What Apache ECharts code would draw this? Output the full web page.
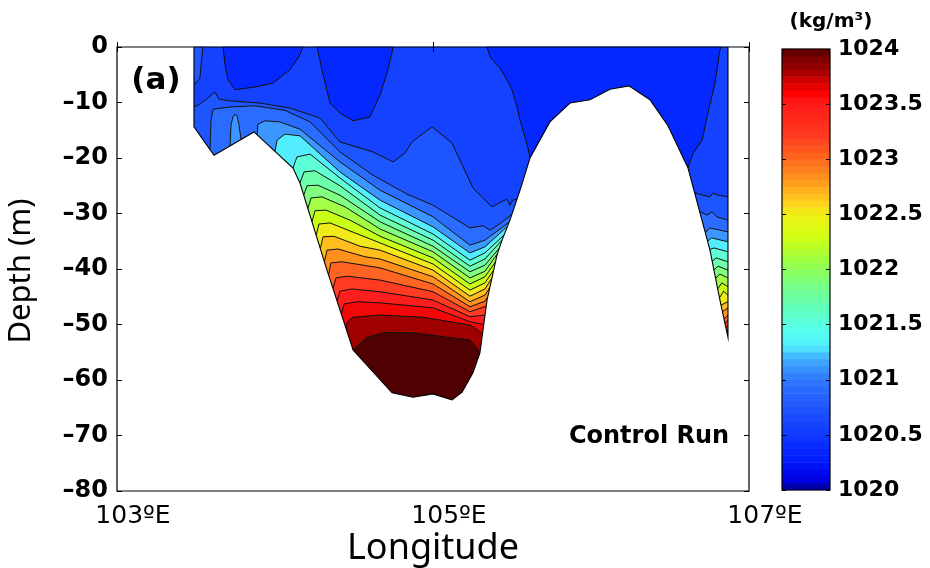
<!DOCTYPE html>
<html>
<head>
<meta charset="utf-8">
<title>Density section - Control Run</title>
<script src="https://cdn.jsdelivr.net/npm/echarts@6/dist/echarts.min.js"></script>
<style>
  html, body { margin: 0; padding: 0; background: #fff; }
  #chart { width: 930px; height: 568px; }
</style>
</head>
<body>
<div id="chart"></div>
<script>
// axis ticks
const lonTicks = [103, 105, 107];
const depthRange = [-80, 0];
const densityRange = [1020, 1024];

// seabed along the section, west to east, [lon, depth m]
const seabed = [
  [103.487, -14.4], [103.614, -19.5], [103.867, -15.3], [104.114, -21.8],
  [104.158, -24.5], [104.329, -40.2], [104.494, -54.6], [104.741, -62.3],
  [104.873, -63.1], [105.0, -62.5], [105.12, -63.6], [105.184, -62.2],
  [105.253, -58.7], [105.297, -55.1], [105.342, -45.6], [105.405, -37.5],
  [105.437, -34.8], [105.487, -31.2], [105.551, -25.8], [105.614, -20.0],
  [105.74, -13.5], [105.867, -10.1], [105.994, -9.5], [106.12, -7.6],
  [106.24, -7.0], [106.373, -9.5], [106.487, -14.2], [106.614, -21.8],
  [106.753, -36.6], [106.816, -45.6], [106.867, -52.3]
];

// fill colour of each density band, lightest water (band 0) first
const bandColors = [
  '#0428ff', '#1442ff', '#1d56ff', '#2a6cff', '#3c96ff',
  '#52eeff', '#5effd6', '#6cffac', '#80ff80', '#a2ff46',
  '#c8ff14', '#f0ea1a', '#ffbe1e', '#ff901e', '#ff6422',
  '#ff3c22', '#ff1e1e', '#f20808', '#a00000', '#500000'
];

// isoline 1: pockets of the lightest water at the surface
const pocketWest = [[103.671, 0], [103.684, -3.2], [103.703, -5.9], [103.747, -7.7], [103.873, -7.2], [103.987, -6.5], [104.095, -4.1], [104.158, -1.4], [104.177, 0]];
const pocketMid = [[104.266, 0], [104.297, -4.1], [104.348, -10.1], [104.411, -11.9], [104.494, -13.3], [104.601, -12.6], [104.665, -8.6], [104.709, -4.7], [104.741, -0.9], [104.747, 0]];
const pocketEastA = [[105.342, 0], [105.361, -1.8], [105.424, -3.8], [105.468, -5.9], [105.5, -7.7], [105.532, -10.8], [105.551, -13.2], [105.582, -16.2], [105.601, -18.2], [105.614, -20.0]];
const pocketEastB = [[106.614, -21.8], [106.646, -19.1], [106.703, -16.8], [106.734, -12.6], [106.785, -6.5], [106.816, -0.5], [106.823, 0]];
// thin strip of band-2 water against the western edge
const edgeStrip = [[103.487, -6.7], [103.494, -6.7], [103.525, -5.6], [103.532, -3.2], [103.544, 0]];

// isolines 2..19, each a list of pieces; denser water lies below each piece
const iso2 = [
  [[103.487, -10.8], [103.525, -10.3], [103.576, -9.2], [103.620, -8.1], [103.646, -9.4], [103.715, -9.7], [103.905, -10.1], [104.095, -11.0], [104.285, -12.8], [104.411, -17.1], [104.620, -18.9], [104.747, -20.7], [104.823, -19.1], [104.867, -17.1], [104.994, -14.4], [105.120, -17.3], [105.253, -25.4], [105.373, -28.8], [105.468, -27.4], [105.487, -28.5], [105.506, -27.6], [105.532, -27.4]],
  [[106.656, -26.3], [106.708, -26.7], [106.753, -27.0], [106.772, -26.3], [106.804, -26.7], [106.867, -27.0]]
];
const iso3 = [
  [[103.589, -18.4], [103.595, -13.2], [103.608, -11.2], [103.715, -10.8], [103.873, -10.6], [104.063, -11.4], [104.222, -13.5], [104.411, -18.9], [104.620, -23.1], [104.835, -26.5], [105.0, -28.5], [105.234, -32.6], [105.316, -32.2], [105.361, -33.0], [105.405, -32.2], [105.443, -31.4], [105.500, -30.1]],
  [[106.687, -29.6], [106.734, -30.3], [106.766, -29.7], [106.797, -30.6], [106.867, -31.2]]
];
const iso4 = [
  [[103.715, -17.8], [103.722, -14.0], [103.734, -12.6], [103.747, -12.1], [103.759, -12.4], [103.772, -14.0], [103.785, -16.7]],
  [[103.886, -15.8], [103.892, -13.9], [103.937, -13.3], [104.032, -13.5], [104.158, -14.8], [104.411, -20.7], [104.665, -25.8], [105.0, -30.6], [105.234, -35.7], [105.329, -34.8], [105.481, -31.6]],
  [[106.724, -33.5], [106.750, -32.6], [106.867, -33.3]]
];
const iso5 = [
  [[104.0, -18.8], [104.013, -16.8], [104.063, -15.7], [104.158, -16.0], [104.411, -22.5], [104.665, -27.6], [105.0, -32.4], [105.234, -37.1], [105.329, -36.0], [105.472, -32.3]],
  [[106.738, -35.0], [106.763, -34.4], [106.867, -35.1]]
];
const iso6 = [
  [[104.114, -21.8], [104.139, -19.8], [104.222, -19.3], [104.411, -23.6], [104.665, -29.0], [105.0, -33.7], [105.234, -38.4], [105.329, -37.1], [105.449, -33.9]],
  [[106.752, -36.5], [106.778, -36.2], [106.867, -36.9]]
];
const iso7 = [
  [[104.158, -24.5], [104.184, -22.5], [104.253, -22.3], [104.411, -25.0], [104.665, -30.3], [105.0, -34.8], [105.234, -39.5], [105.329, -38.2], [105.437, -34.8]],
  [[106.767, -38.6], [106.792, -38.0], [106.867, -38.7]]
];
const iso8 = [
  [[104.182, -26.7], [104.203, -25.0], [104.272, -24.9], [104.411, -26.7], [104.665, -31.5], [105.0, -35.9], [105.234, -40.5], [105.329, -39.3], [105.421, -36.2]],
  [[106.778, -40.2], [106.804, -39.5], [106.867, -40.2]]
];
const iso9 = [
  [[104.208, -29.1], [104.228, -27.2], [104.297, -27.0], [104.443, -28.8], [104.665, -32.8], [105.0, -36.9], [105.234, -41.6], [105.329, -40.4], [105.407, -37.3]],
  [[106.789, -41.7], [106.814, -40.9], [106.867, -41.6]]
];
const iso10 = [
  [[104.234, -31.5], [104.253, -29.5], [104.323, -29.4], [104.475, -31.2], [104.665, -34.1], [105.0, -38.0], [105.234, -42.7], [105.329, -41.4], [105.396, -38.7]],
  [[106.802, -43.6], [106.828, -42.5], [106.867, -43.2]]
];
const iso11 = [
  [[104.261, -33.9], [104.278, -31.9], [104.348, -31.7], [104.506, -33.5], [104.665, -35.3], [105.0, -39.1], [105.234, -43.8], [105.329, -42.5], [105.384, -40.2]],
  [[106.813, -45.2], [106.839, -44.0], [106.867, -44.7]]
];
const iso12 = [
  [[104.287, -36.3], [104.304, -34.2], [104.373, -34.1], [104.538, -35.9], [104.665, -36.6], [105.0, -40.2], [105.234, -44.9], [105.329, -43.6], [105.373, -41.6]],
  [[106.823, -46.5], [106.867, -45.9]]
];
const iso13 = [
  [[104.313, -38.7], [104.329, -36.6], [104.399, -36.4], [104.570, -37.8], [104.665, -38.2], [105.0, -41.4], [105.234, -45.9], [105.329, -44.7], [105.360, -43.3]],
  [[106.832, -47.7], [106.867, -47.0]]
];
const iso14 = [
  [[104.339, -41.1], [104.354, -38.9], [104.424, -38.7], [104.665, -39.8], [105.0, -42.7], [105.234, -46.8], [105.329, -45.8], [105.347, -45.0]],
  [[106.842, -49.0], [106.867, -48.3]]
];
const iso15 = [
  [[104.367, -43.5], [104.386, -41.6], [104.456, -41.3], [104.665, -42.0], [105.0, -44.1], [105.234, -47.7], [105.337, -46.7]],
  [[106.848, -49.8], [106.867, -49.2]]
];
const iso16 = [
  [[104.393, -45.8], [104.411, -44.0], [104.487, -43.6], [104.665, -44.1], [105.0, -45.6], [105.234, -48.6], [105.329, -48.3]],
  [[106.854, -50.6], [106.867, -50.1]]
];
const iso17 = [
  [[104.419, -48.1], [104.437, -46.3], [104.519, -45.9], [104.665, -46.1], [105.0, -47.0], [105.234, -49.5], [105.321, -50.0]],
  [[106.860, -51.4], [106.867, -51.0]]
];
const iso18 = [
  [[104.447, -50.5], [104.462, -49.4], [104.494, -48.7], [104.665, -48.3], [104.937, -48.7], [105.234, -50.1], [105.285, -51.0], [105.313, -51.7]]
];
const iso19 = [
  [[104.494, -54.6], [104.582, -52.3], [104.709, -51.4], [104.873, -51.5], [105.089, -52.3], [105.234, -52.8], [105.278, -54.2], [105.294, -55.3]]
];
const isolines = [iso2, iso3, iso4, iso5, iso6, iso7, iso8, iso9, iso10, iso11,
  iso12, iso13, iso14, iso15, iso16, iso17, iso18, iso19];

// colour bar stops [density, colour]
const cbarStops = [
  [1020.0, '#000090'], [1020.1, '#0000e6'], [1020.3, '#0020ff'], [1020.5, '#1038ff'],
  [1020.7, '#1e50ff'], [1021.0, '#3078ff'], [1021.15, '#3ca0ff'], [1021.25, '#48c8ff'],
  [1021.3, '#50f0ff'], [1021.45, '#56ffee'], [1021.6, '#5effc8'], [1021.8, '#70ff96'],
  [1022.0, '#8cff5a'], [1022.1, '#a0ff3c'], [1022.3, '#d2ff14'], [1022.5, '#f0f014'],
  [1022.6, '#ffd21e'], [1022.8, '#ff9a1e'], [1023.0, '#ff6a1e'], [1023.2, '#ff3c1e'],
  [1023.5, '#ff1a1a'], [1023.6, '#ff0000'], [1023.75, '#c00000'], [1023.8, '#a00000'],
  [1023.9, '#800000'], [1024.0, '#5a0000']
];
const cbarSteps = 64;

// ---- geometry helpers (data space only, pixels come from api.coord) ----
const west = seabed[0][0];
const east = seabed[seabed.length - 1][0];

function bottomBetween(a, b) {
  const lo = Math.min(a, b) - 1e-6, hi = Math.max(a, b) + 1e-6;
  const pts = seabed.filter(p => p[0] >= lo && p[0] <= hi);
  return a <= b ? pts : pts.slice().reverse();
}
function belowPoly(piece) {
  const first = piece[0], last = piece[piece.length - 1];
  return piece.concat(bottomBetween(last[0], first[0]));
}
function abovePoly(pieces) {
  let pts = [];
  pieces.forEach((pc, i) => {
    if (i > 0) pts = pts.concat(bottomBetween(pts[pts.length - 1][0], pc[0][0]));
    pts = pts.concat(pc);
  });
  const first = pts[0], last = pts[pts.length - 1];
  return pts.concat([[last[0], 0], [first[0], 0]]);
}

const waterPoly = [[west, 0], [east, 0]].concat(seabed.slice().reverse());

const regions = [{ poly: waterPoly, color: bandColors[1] }];
[[pocketWest], [pocketMid], [pocketEastA, pocketEastB]].forEach(p =>
  regions.push({ poly: abovePoly(p), color: bandColors[0] }));
regions.push({ poly: abovePoly([edgeStrip]), color: bandColors[2] });
isolines.forEach((iso, j) => iso.forEach(pc =>
  regions.push({ poly: belowPoly(pc), color: bandColors[j + 2] })));

const contourLines = [pocketWest, pocketMid, pocketEastA, pocketEastB, edgeStrip];
isolines.forEach(iso => iso.forEach(pc => contourLines.push(pc)));

const landMask = [[103, 0], [west, 0]]
  .concat(seabed)
  .concat([[east, 0], [107, 0], [107, depthRange[0]], [103, depthRange[0]]]);
const outline = [[west, 0]].concat(seabed).concat([[east, 0]]);

// colour bar steps
function hex(c) { return [1, 3, 5].map(i => parseInt(c.substr(i, 2), 16)); }
function cmap(v) {
  for (let i = 1; i < cbarStops.length; i++) {
    if (v <= cbarStops[i][0]) {
      const a = cbarStops[i - 1], b = cbarStops[i];
      const t = (v - a[0]) / (b[0] - a[0]);
      const ca = hex(a[1]), cb = hex(b[1]);
      return 'rgb(' + ca.map((x, k) => Math.round(x + (cb[k] - x) * t)).join(',') + ')';
    }
  }
  return cbarStops[cbarStops.length - 1][1];
}
const span = (densityRange[1] - densityRange[0]) / cbarSteps;
const cbar = [];
for (let i = 0; i < cbarSteps; i++) {
  const lo = densityRange[0] + i * span;
  cbar.push({ lo: lo, hi: lo + span, color: cmap(lo + span / 2) });
}

const fmtDepth = v => (v < 0 ? '\u2013' + Math.abs(v) : String(v));
const black = '#000';

const chart = echarts.init(document.getElementById('chart'), null, { renderer: 'canvas' });
chart.setOption({
  animation: false,
  backgroundColor: '#fff',
  grid: [
    { left: 117, top: 47, width: 632, height: 444, show: true, z: 10,
      borderColor: black, borderWidth: 1.2, backgroundColor: 'transparent' },
    { left: 782, top: 49, width: 48, height: 441, show: true, z: 10,
      borderColor: black, borderWidth: 1.2, backgroundColor: 'transparent' }
  ],
  xAxis: [
    { gridIndex: 0, type: 'value', min: 103, max: 107, position: 'bottom', z: 10,
      axisLine: { show: false }, splitLine: { show: false },
      axisTick: { inside: true, length: 5, customValues: lonTicks, lineStyle: { color: black } },
      axisLabel: { customValues: lonTicks, formatter: v => v + '\u00baE', color: black,
        fontFamily: 'DejaVu Sans', fontSize: 25, margin: 13, padding: [0, 0, 0, 32] } },
    { gridIndex: 0, type: 'value', min: 103, max: 107, position: 'top', z: 10,
      axisLine: { show: false }, splitLine: { show: false },
      axisTick: { inside: true, length: 5, customValues: lonTicks, lineStyle: { color: black } },
      axisLabel: { show: false } },
    { gridIndex: 1, type: 'value', min: 0, max: 1, show: false }
  ],
  yAxis: [
    { gridIndex: 0, type: 'value', min: depthRange[0], max: depthRange[1], interval: 10, position: 'left', z: 10,
      axisLine: { show: false }, splitLine: { show: false },
      axisTick: { inside: true, length: 5, lineStyle: { color: black } },
      axisLabel: { formatter: fmtDepth, color: black, fontFamily: 'DejaVu Sans', fontWeight: 'bold',
        fontSize: 24, margin: 9 } },
    { gridIndex: 0, type: 'value', min: depthRange[0], max: depthRange[1], interval: 10, position: 'right', z: 10,
      axisLine: { show: false }, splitLine: { show: false },
      axisTick: { inside: true, length: 5, lineStyle: { color: black } },
      axisLabel: { show: false } },
    { gridIndex: 1, type: 'value', min: densityRange[0], max: densityRange[1], interval: 0.5, position: 'left', z: 10,
      axisLine: { show: false }, splitLine: { show: false },
      axisTick: { inside: true, length: 4, lineStyle: { color: black } },
      axisLabel: { show: false } },
    { gridIndex: 1, type: 'value', min: densityRange[0], max: densityRange[1], interval: 0.5, position: 'right', z: 10,
      axisLine: { show: false }, splitLine: { show: false },
      axisTick: { inside: true, length: 4, lineStyle: { color: black } },
      axisLabel: { formatter: v => String(v), color: black, fontFamily: 'DejaVu Sans', fontWeight: 'bold',
        fontSize: 22, margin: 8 } }
  ],
  series: [
    { // filled density bands
      type: 'custom', xAxisIndex: 0, yAxisIndex: 0, z: 2, silent: true,
      data: regions.map((r, i) => [r.poly[0][0], r.poly[0][1], i]),
      renderItem: (params, api) => {
        const r = regions[params.dataIndex];
        return { type: 'polygon', z2: params.dataIndex,
          shape: { points: r.poly.map(p => api.coord(p)) },
          style: { fill: r.color, stroke: r.color, lineWidth: 0.5 } };
      }
    },
    { // contour lines
      type: 'custom', xAxisIndex: 0, yAxisIndex: 0, z: 3, silent: true,
      data: contourLines.map((l, i) => [l[0][0], l[0][1], i]),
      renderItem: (params, api) => ({
        type: 'polyline',
        shape: { points: contourLines[params.dataIndex].map(p => api.coord(p)) },
        style: { stroke: '#111', lineWidth: 1, fill: null }
      })
    },
    { // land / no-data mask and seabed outline
      type: 'custom', xAxisIndex: 0, yAxisIndex: 0, z: 4, silent: true,
      data: [[103, 0, 0], [103, 0, 1]],
      renderItem: (params, api) => params.dataIndex === 0
        ? { type: 'polygon', shape: { points: landMask.map(p => api.coord(p)) }, style: { fill: '#fff' } }
        : { type: 'polyline', shape: { points: outline.map(p => api.coord(p)) },
            style: { stroke: '#000', lineWidth: 1.1, fill: null } }
    },
    { // colour bar
      type: 'custom', xAxisIndex: 2, yAxisIndex: 2, z: 2, silent: true,
      data: cbar.map(c => [0.5, (c.lo + c.hi) / 2]),
      renderItem: (params, api) => {
        const c = cbar[params.dataIndex];
        const p0 = api.coord([0, c.lo]);
        const p1 = api.coord([1, c.hi]);
        return { type: 'rect',
          shape: { x: p0[0], y: p1[1] - 0.3, width: p1[0] - p0[0], height: p0[1] - p1[1] + 0.6 },
          style: { fill: c.color } };
      }
    }
  ],
  graphic: [
    { type: 'text', x: 21, y: 271, rotation: Math.PI / 2, z: 20,
      style: { text: 'Depth (m)', fill: black, fontFamily: 'Noto Sans', fontSize: 31,
        align: 'center', verticalAlign: 'middle' } },
    { type: 'text', x: 433, y: 549, z: 20,
      style: { text: 'Longitude', fill: black, fontFamily: 'Noto Sans', fontSize: 36,
        align: 'center', verticalAlign: 'middle' } },
    { type: 'text', x: 156, y: 81, z: 20,
      style: { text: '(a)', fill: black, fontFamily: 'DejaVu Sans', fontWeight: 'bold', fontSize: 31,
        align: 'center', verticalAlign: 'middle' } },
    { type: 'text', x: 649, y: 437, z: 20,
      style: { text: 'Control Run', fill: black, fontFamily: 'DejaVu Sans', fontWeight: 'bold', fontSize: 24,
        align: 'center', verticalAlign: 'middle' } },
    { type: 'text', x: 831, y: 22, z: 20,
      style: { text: '(kg/m\u00b3)', fill: black, fontFamily: 'DejaVu Sans', fontWeight: 'bold', fontSize: 20,
        align: 'center', verticalAlign: 'middle' } }
  ]
});
</script>
</body>
</html>
